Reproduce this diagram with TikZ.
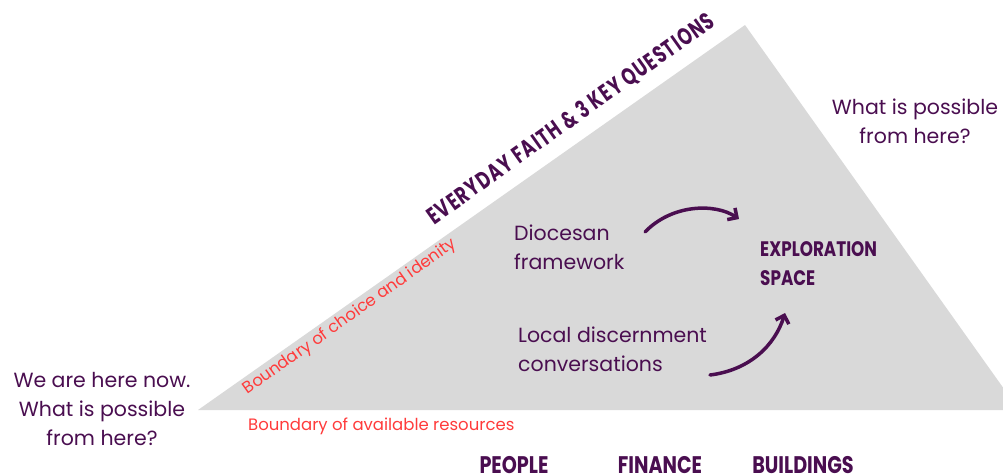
\documentclass[tikz,border=0pt]{standalone}
\usepackage{fontspec}
\setmainfont{Poppins}
\newfontfamily\brush{Poppins}[FakeStretch=0.8]
\newfontfamily\brushT{Poppins}[FakeStretch=0.72, LetterSpace=5]
\usetikzlibrary{arrows.meta}
\definecolor{plum}{HTML}{4A0E50}
\definecolor{redtxt}{HTML}{FF3B3B}
\definecolor{tri}{HTML}{D9D9D9}
\tikzset{
  body/.style={text=plum, inner sep=0pt, font=\fontsize{20.5}{29}\selectfont},
  heavy/.style={text=plum, inner sep=0pt, font=\brush\bfseries\fontsize{#1}{29}\selectfont},
  redlbl/.style={text=redtxt, inner sep=0pt, font=\fontsize{16.5}{20}\selectfont},
  curvearrow/.style={draw=plum, line width=3.5pt, line cap=round, -{Straight Barb[length=7pt,width=14pt,line width=3.5pt]}}
}
\begin{document}
\begin{tikzpicture}[x=1pt,y=-1pt]
\useasboundingbox (0,0) rectangle (1003,474);
\begin{scope}
\clip (0,0) rectangle (1003,474);
\fill[tri] (198,410) -- (745,25) -- (1019,410) -- cycle;
\end{scope}
\node[text=plum, inner sep=0pt, font=\brushT\bfseries\fontsize{24}{29}\selectfont, rotate=35.4] (title) at (571,119) {EVERYDAY FAITH \& 3 KEY QUESTIONS};
\node[redlbl, rotate=35.4] (choice) at (350,317) {Boundary of choice and idenity};
\node[redlbl, anchor=west] (resources) at (248,426) {Boundary of available resources};
\node[body, align=left, anchor=west] (dio) at (514,247.5) {Diocesan\\framework};
\node[body, align=left, anchor=west] (local) at (518,349) {Local discernment\\conversations};
\node[heavy=21, align=left, anchor=west] (explore) at (760,263.5) {EXPLORATION\\SPACE};
\node[body, align=center] (right) at (915,121) {What is possible\\from here?};
\node[body, align=center] (left) at (102,409) {We are here now.\\What is possible\\from here?};
\node[heavy=24] (people) at (514,465) {PEOPLE};
\node[heavy=24] (finance) at (660,465) {FINANCE};
\node[heavy=24] (buildings) at (803,465) {BUILDINGS};
\coordinate (a1s) at (645,232);
\coordinate (a1e) at (739,219);
\coordinate (a2s) at (710,375);
\coordinate (a2e) at (785,313);
\draw[curvearrow] (a1s) .. controls (672,204) and (715,203) .. (a1e);
\draw[curvearrow] (a2s) .. controls (750,370) and (775,345) .. (a2e);
\end{tikzpicture}
\end{document}
